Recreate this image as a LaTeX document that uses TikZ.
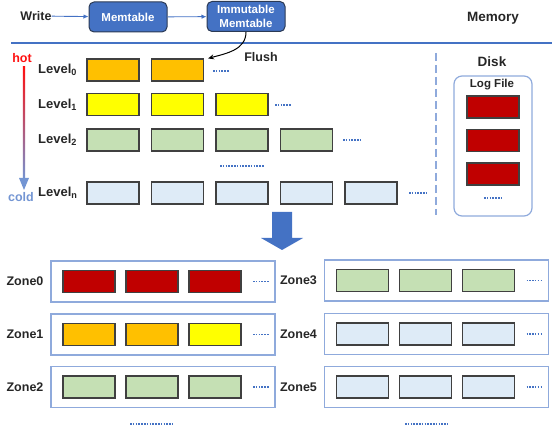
\documentclass[tikz,border=0pt]{standalone}
\usepackage{fontspec}
\setmainfont{Liberation Sans}
\usetikzlibrary{arrows.meta}
\definecolor{memblue}{HTML}{4472C4}
\definecolor{memline}{HTML}{2B3A55}
\definecolor{frameblue}{HTML}{8FAADC}
\definecolor{blkline}{HTML}{404040}
\definecolor{txtgray}{HTML}{262626}
\definecolor{orangef}{HTML}{FFC000}
\definecolor{yellowf}{HTML}{FFFF00}
\definecolor{greenf}{HTML}{C5E0B4}
\definecolor{paleblue}{HTML}{DEEBF7}
\definecolor{redf}{HTML}{C00000}
\definecolor{hotred}{HTML}{FF1010}
\definecolor{coldblue}{HTML}{7395D3}
\definecolor{warmcream}{HTML}{FFF0CC}
\tikzset{
  lbl/.style={font=\bfseries\fontsize{12.5}{14}\selectfont, text=txtgray, inner sep=0pt},
  membox/.style={draw=memline, fill=memblue, line width=1pt, rounded corners=5pt,
    minimum width=78pt, minimum height=30pt, text=white, align=center, inner sep=0pt,
    font=\bfseries\fontsize{11.5}{13.5}\selectfont},
  blk/.style={draw=blkline, line width=1.1pt, minimum width=52pt, minimum height=22pt, inner sep=0pt},
  zonebox/.style={draw=frameblue, line width=1.2pt, minimum width=224pt, minimum height=41pt, inner sep=0pt},
  etc/.style={draw=memblue, line width=1.6pt, dash pattern=on 1.5pt off 1.3pt},
  thinarrow/.style={draw=memblue, line width=0.9pt, -{Latex[length=5pt,width=4.5pt]}},
}
\begin{document}
\begin{tikzpicture}[x=1pt,y=-1pt]
        \useasboundingbox (0,0) rectangle (554,427);
        %% memory part
        \node[lbl] (write) at (36,16) {Write};
        \node[membox] (mem) at (128,17) {Memtable};
        \node[membox] (imm) at (246,16.5) {Immutable\\Memtable};
        \node[lbl, font=\bfseries\fontsize{13.5}{15}\selectfont] (memory) at (493,18) {Memory};
        \draw[thinarrow] (write) -- (mem);
        \draw[thinarrow] (mem) -- (imm);
        \draw[memblue, line width=2.8pt] (11,43) -- (552,43);
        %% levels
        \node[lbl] (hot) at (22,58) {\textcolor{hotred}{hot}};
        \node[lbl] (cold) at (21,197) {\textcolor{coldblue}{cold}};
        \shade[top color=hotred, middle color=warmcream, bottom color=coldblue] (22.8,67) rectangle (25.2,180);
        \fill[coldblue] (19,178) -- (29,178) -- (24,190) -- cycle;
        \node[lbl, anchor=west, font=\bfseries\fontsize{13}{15}\selectfont] (lv0) at (38,70) {Level\textsubscript{0}};
        \node[lbl, anchor=west, font=\bfseries\fontsize{13}{15}\selectfont] (lv1) at (38,104.5) {Level\textsubscript{1}};
        \node[lbl, anchor=west, font=\bfseries\fontsize{13}{15}\selectfont] (lv2) at (38,140) {Level\textsubscript{2}};
        \node[lbl, anchor=west, font=\bfseries\fontsize{13}{15}\selectfont] (lvn) at (38,193) {Level\textsubscript{n}};
        \foreach \i in {0,1} \node[blk, fill=orangef] (l0b\i) at ({113+64.5*\i},70) {};
        \foreach \i in {0,...,2} \node[blk, fill=yellowf] (l1b\i) at ({113+64.5*\i},104.5) {};
        \foreach \i in {0,...,3} \node[blk, fill=greenf] (l2b\i) at ({113+64.5*\i},140) {};
        \foreach \i in {0,...,4} \node[blk, fill=paleblue] (lnb\i) at ({113+64.5*\i},193) {};
        \draw[etc] (213,71) -- (229,71);
        \draw[etc] (275,105) -- (291,105);
        \draw[etc] (343,140) -- (360,140);
        \draw[etc] (220,166) -- (264,166);
        \draw[etc] (409,193) -- (426,193);
        %% flush
        \draw[line width=1pt, -{Stealth[length=6pt,width=5pt]}] (imm.south)
            .. controls +(0,18) and +(18,-5) .. ([xshift=4pt]l0b1.north east);
        \node[lbl] (flush) at (261,57) {Flush};
        %% disk
        \draw[frameblue, line width=1.3pt, dash pattern=on 8pt off 4pt] (436,53) -- (436,215);
        \node[lbl, font=\bfseries\fontsize{13.5}{15}\selectfont] (disk) at (492,62) {Disk};
        \node[draw=frameblue, line width=1.2pt, rounded corners=8pt, minimum width=78pt,
            minimum height=140pt, inner sep=0pt] (logfile) at (493,146) {};
        \node[lbl, font=\bfseries\fontsize{11.5}{13}\selectfont] (loglbl) at (492,85) {Log File};
        \foreach \y [count=\k] in {107,140.5,174} \node[blk, fill=redf] (log\k) at (493,\y) {};
        \draw[etc] (484,198) -- (502,198);
        %% big arrow
        \fill[memblue] (272,212) -- (292,212) -- (292,238) -- (303,238) -- (282,250)
            -- (261,238) -- (272,238) -- cycle;
        %% zones
        \foreach \z/\zx/\zy/\ca/\cb/\cc in {0/163/281.5/redf/redf/redf,
                1/163/334.5/orangef/orangef/yellowf,
                2/163/387/greenf/greenf/greenf,
                3/436.5/280.5/greenf/greenf/greenf,
                4/436.5/334/paleblue/paleblue/paleblue,
                5/436.5/387/paleblue/paleblue/paleblue} {
            \node[zonebox] (zone\z) at (\zx,\zy) {};
            \node[lbl] (zlbl\z) at (\zx-138,\zy) {Zone\z};
            \node[blk, fill=\ca] (z\z a) at (\zx-74,\zy) {};
            \node[blk, fill=\cb] (z\z b) at (\zx-11,\zy) {};
            \node[blk, fill=\cc] (z\z c) at (\zx+52,\zy) {};
            \draw[etc] (\zx+90,\zy) -- (\zx+106,\zy);
        }
        \draw[etc] (130,424) -- (173,424);
        \draw[etc] (405,424) -- (448,424);
    \end{tikzpicture}
\end{document}
